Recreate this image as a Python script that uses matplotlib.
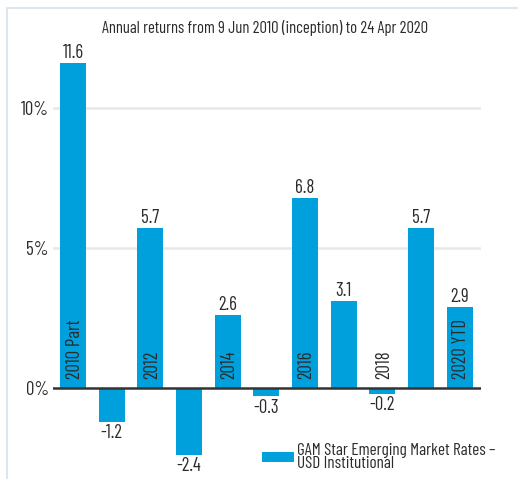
import matplotlib
matplotlib.use("Agg")
import matplotlib.pyplot as plt
from matplotlib.patches import Rectangle

categories = ["2010 Part", "2011", "2012", "2013", "2014", "2015", "2016", "2017", "2018", "2019", "2020 YTD"]
values = [11.6, -1.2, 5.7, -2.4, 2.6, -0.3, 6.8, 3.1, -0.2, 5.7, 2.9]
shown_labels = ["2010 Part", "", "2012", "", "2014", "", "2016", "", "2018", "", "2020 YTD"]
yticks = [0, 5, 10]
ytick_labels = ["0%", "5%", "10%"]
title = "Annual returns from 9 Jun 2010 (inception) to 24 Apr 2020"
legend_label = "GAM Star Emerging Market Rates –\nUSD Institutional"

plt.rcParams["font.family"] = ["Barlow Condensed", "DejaVu Sans"]

W, H = 518, 479
fig = plt.figure(figsize=(W / 100, H / 100), dpi=100)
fig.add_artist(Rectangle((7 / W, -0.5), 2, 1 - 8 / H + 0.5, transform=fig.transFigure,
                         fill=False, edgecolor="#d6e2ea", linewidth=1.2))

ax = fig.add_axes([53 / W, 1 - 465 / H, (481 - 53) / W, (465 - 40) / H])
color = "#00a0dc"
text_c = "#2b2b2b"
fs = 13.5
x = list(range(len(values)))
ax.bar(x, values, width=0.67, color=color, zorder=3)
ax.set_xlim(-0.52, 10.55)
ax.set_ylim(-2.75, 12.43)
for s in ax.spines.values():
    s.set_visible(False)
ax.set_xticks([])
ax.set_yticks(yticks)
ax.set_yticklabels(ytick_labels, fontsize=fs, color=text_c)
ax.tick_params(axis="y", length=0, pad=3)
for t in [5, 10]:
    ax.axhline(t, color="#e8e8e8", linewidth=1.8, zorder=1)
ax.axhline(0, color="#333333", linewidth=1.8, zorder=4)

for i, v in enumerate(values):
    if v >= 0:
        ax.text(i, v + 0.18, f"{v:.1f}", ha="center", va="baseline", fontsize=fs, color=text_c)
    else:
        ax.text(i, v - 0.08, f"{v:.1f}", ha="center", va="top", fontsize=fs, color=text_c)
    if shown_labels[i]:
        ax.text(i + 0.04, 0.32, shown_labels[i], rotation=90, ha="center", va="bottom",
                fontsize=fs, color=text_c, zorder=5)

fig.text(265 / W, 1 - 28 / H, title, ha="center", va="center", fontsize=12, color=text_c)

fig.add_artist(Rectangle((262 / W, 1 - 462 / H), 32 / W, 10 / H, transform=fig.transFigure,
                         facecolor=color, edgecolor="none"))
fig.text(297 / W, 1 - 457 / H, legend_label, ha="left", va="center", fontsize=12.3,
         color=text_c, linespacing=0.8)
fig.savefig("out.png", dpi=100, facecolor="white")
